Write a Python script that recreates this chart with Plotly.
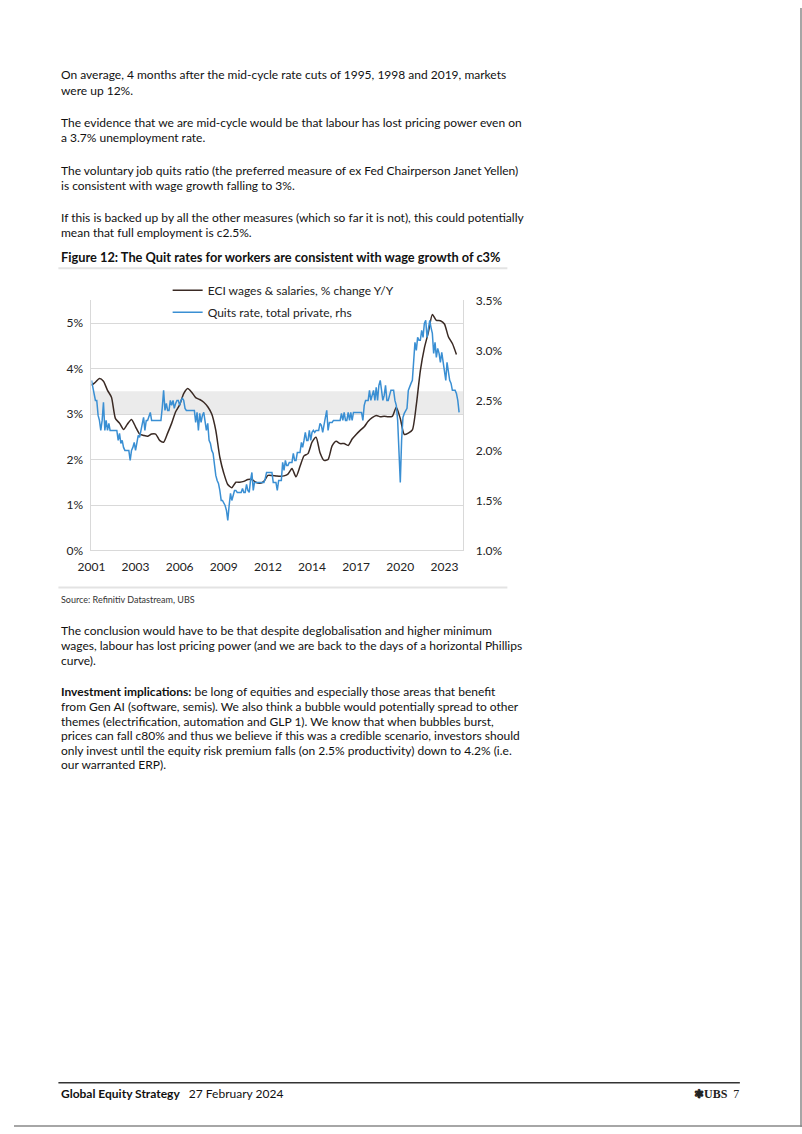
import pandas as pd
import plotly.graph_objects as go

# ---------------- data ----------------
eci_start = "2001-01-01"
eci_values = [3.63, 3.70, 3.78, 3.72, 3.52, 3.37, 2.90, 2.80, 2.66, 2.78, 2.88, 2.72,
              2.56, 2.53, 2.51, 2.56, 2.56, 2.42, 2.38, 2.58, 2.80, 3.05, 3.20, 3.45,
              3.56, 3.48, 3.36, 3.32, 3.26, 3.16, 3.00, 2.64, 2.05, 1.70, 1.45, 1.38,
              1.50, 1.50, 1.52, 1.56, 1.56, 1.50, 1.48, 1.52, 1.65, 1.65, 1.64, 1.63,
              1.64, 1.68, 1.80, 1.62, 1.85, 2.08, 2.13, 2.38, 2.49, 2.15, 1.98, 2.00,
              2.30, 2.40, 2.35, 2.35, 2.31, 2.45, 2.55, 2.64, 2.72, 2.84, 2.92, 2.97,
              2.94, 2.95, 2.94, 2.95, 3.15, 2.90, 2.55, 2.58, 2.65, 3.20, 3.95, 4.45,
              4.80, 5.19, 5.06, 5.05, 4.98, 4.70, 4.55, 4.31]

quits_start = "2001-01-01"
quits_values = [
    2.70, 2.63, 2.55, 2.50, 2.50, 2.35, 2.30, 2.20, 2.30, 2.48, 2.20, 2.30,  # 2001
    2.20, 2.27, 2.20, 2.20, 2.20, 2.20, 2.20, 2.20, 2.10, 2.17, 2.07, 2.10,  # 2002
    2.03, 2.00, 2.00, 2.00, 2.00, 1.90, 2.00, 2.03, 2.08, 2.00, 2.10, 2.15,  # 2003
    2.13, 2.20, 2.25, 2.33, 2.20, 2.30, 2.30, 2.35, 2.38, 2.30, 2.30, 2.30,  # 2004
    2.30, 2.30, 2.30, 2.30, 2.30, 2.43, 2.60, 2.40, 2.47, 2.40, 2.40, 2.50,  # 2005
    2.45, 2.50, 2.42, 2.47, 2.50, 2.50, 2.45, 2.50, 2.52, 2.50, 2.42, 2.40,  # 2006
    2.40, 2.40, 2.40, 2.40, 2.40, 2.40, 2.28, 2.38, 2.20, 2.37, 2.28, 2.35,  # 2007
    2.38, 2.30, 2.20, 2.27, 2.10, 2.07, 2.00, 1.97, 1.83, 1.75, 1.70, 1.67,  # 2008
    1.60, 1.50, 1.50, 1.47, 1.45, 1.40, 1.30, 1.45, 1.57, 1.50, 1.55, 1.60,  # 2009
    1.60, 1.58, 1.58, 1.58, 1.58, 1.62, 1.58, 1.58, 1.66, 1.60, 1.58, 1.70,  # 2010
    1.78, 1.60, 1.68, 1.68, 1.68, 1.68, 1.68, 1.68, 1.68, 1.68, 1.72, 1.78,  # 2011
    1.78, 1.78, 1.78, 1.78, 1.68, 1.68, 1.68, 1.60, 1.70, 1.70, 1.70, 1.88,  # 2012
    1.80, 1.90, 1.85, 1.85, 1.88, 1.88, 1.88, 1.97, 1.90, 1.90, 1.98, 1.98,  # 2013
    1.98, 2.08, 2.03, 2.10, 2.18, 2.10, 2.10, 2.20, 2.10, 2.18, 2.20, 2.18,  # 2014
    2.20, 2.20, 2.20, 2.27, 2.25, 2.18, 2.28, 2.33, 2.40, 2.20, 2.28, 2.28,  # 2015
    2.28, 2.30, 2.30, 2.30, 2.30, 2.30, 2.30, 2.37, 2.30, 2.38, 2.30, 2.30,  # 2016
    2.38, 2.30, 2.38, 2.30, 2.38, 2.38, 2.38, 2.38, 2.38, 2.38, 2.38, 2.30,  # 2017
    2.45, 2.50, 2.50, 2.50, 2.60, 2.50, 2.55, 2.60, 2.50, 2.63, 2.50, 2.65,  # 2018
    2.70, 2.57, 2.50, 2.55, 2.65, 2.50, 2.50, 2.55, 2.60, 2.60, 2.60, 2.50,  # 2019
    2.45, 2.30, 2.00, 1.68, 2.10, 2.33, 2.37, 2.40, 2.42, 2.60, 2.65, 2.67,  # 2020
    2.70, 2.87, 3.08, 3.00, 3.13, 3.10, 3.10, 3.20, 3.13, 3.27, 3.30, 3.13,  # 2021
    3.23, 3.30, 3.23, 3.17, 2.97, 3.08, 2.93, 3.02, 2.97, 2.88, 2.98, 2.87,  # 2022
    2.80, 2.70, 2.88, 2.78, 2.70, 2.67, 2.60, 2.60, 2.60, 2.57, 2.50, 2.38,  # 2023
]

x_tick_dates = ["2001-01-01", "2003-10-01", "2006-07-01", "2009-04-01", "2012-01-01",
                "2014-10-01", "2017-07-01", "2020-04-01", "2023-01-01"]
x_tick_labels = ["2001", "2003", "2006", "2009", "2012", "2014", "2017", "2020", "2023"]
left_ticks = [0, 1, 2, 3, 4, 5]
left_tick_labels = ["0%", "1%", "2%", "3%", "4%", "5%"]
right_ticks = [1.0, 1.5, 2.0, 2.5, 3.0, 3.5]
right_tick_labels = ["1.0%", "1.5%", "2.0%", "2.5%", "3.0%", "3.5%"]
band_low, band_high = 3.0, 3.5

series_names = ["ECI wages & salaries, % change Y/Y", "Quits rate, total private, rhs"]

# ---------------- page geometry ----------------
# The photograph shows the page inset by (16, 8) px inside an 818x1150 area that is
# fitted back to 802x1134, so target photo positions are converted here.
W, H = 802, 1134
OX, OY = 16, 8
SX, SY = (W + OX) / W, (H + 2 * OY) / H
def px(x):
    return (x * SX - OX) / W
def py(y):
    return 1 - (y * SY - OY) / H

eci_dates = pd.date_range(eci_start, periods=len(eci_values), freq="QS")
quits_dates = pd.date_range(quits_start, periods=len(quits_values), freq="MS")

FONT = "Lato"
BLUE = "#3a8fd3"
BROWN = "#3a2a24"

fig = go.Figure()
fig.add_trace(go.Scatter(x=eci_dates, y=eci_values, name=series_names[0], mode="lines",
                         line=dict(color=BROWN, width=1.5, shape="spline", smoothing=0.6),
                         legendgroup="a", yaxis="y"))
fig.add_trace(go.Scatter(x=quits_dates, y=quits_values, name=series_names[1], mode="lines",
                         line=dict(color=BLUE, width=1.5), legendgroup="b", yaxis="y2"))

fig.add_hrect(y0=band_low, y1=band_high, fillcolor="#ebebeb", line_width=0, layer="below",
              xref="x", yref="y")

grid = "#d9d9d9"
fig.update_layout(
    width=W, height=H, margin=dict(l=0, r=0, t=0, b=0),
    paper_bgcolor="white", plot_bgcolor="white",
    font=dict(family=FONT, size=12, color="#222"),
    showlegend=True,
    legend=dict(x=px(169), y=py(275.5), xanchor="left", yanchor="top",
                bgcolor="rgba(0,0,0,0)", font=dict(size=12, color="#222", family=FONT),
                traceorder="grouped", tracegroupgap=3, itemwidth=30),
    xaxis=dict(domain=[px(93), px(464)], type="date",
               range=["2001-01-01", "2024-03-05"],
               tickvals=x_tick_dates, ticktext=x_tick_labels, showgrid=False,
               showline=True, linecolor=grid, linewidth=1, ticks="", zeroline=False,
               tickfont=dict(size=12, color="#222"), ticklabelstandoff=5),
    yaxis=dict(domain=[py(550), py(300)], range=[0, 5.5], tickvals=left_ticks,
               ticktext=left_tick_labels, showgrid=True, gridcolor=grid, gridwidth=1,
               showline=True, linecolor=grid, zeroline=False, ticks="",
               tickfont=dict(size=12, color="#222"), ticklabelstandoff=5),
    yaxis2=dict(domain=[py(550), py(300)], range=[1.0, 3.5], overlaying="y", side="right",
                anchor="x", tickvals=right_ticks, ticktext=right_tick_labels, showgrid=False,
                showline=True, linecolor=grid, zeroline=False, ticks="",
                tickfont=dict(size=12, color="#222"), ticklabelstandoff=9),
)

# ---------------- page text ----------------
body = [
    (74, "On average, 4 months after the mid-cycle rate cuts of 1995, 1998 and 2019, markets"),
    (90, "were up 12%."),
    (122, "The evidence that we are mid-cycle would be that labour has lost pricing power even on"),
    (137, "a 3.7% unemployment rate."),
    (170, "The voluntary job quits ratio (the preferred measure of ex Fed Chairperson Janet Yellen)"),
    (185, "is consistent with wage growth falling to 3%."),
    (217, "If this is backed up by all the other measures (which so far it is not), this could potentially"),
    (232, "mean that full employment is c2.5%."),
    (630, "The conclusion would have to be that despite deglobalisation and higher minimum"),
    (645, "wages, labour has lost pricing power (and we are back to the days of a horizontal Phillips"),
    (660, "curve)."),
    (691, "<b>Investment implications:</b> be long of equities and especially those areas that benefit"),
    (706, "from Gen AI (software, semis). We also think a bubble would potentially spread to other"),
    (721, "themes (electrification, automation and GLP 1). We know that when bubbles burst,"),
    (735, "prices can fall c80% and thus we believe if this was a credible scenario, investors should"),
    (750, "only invest until the equity risk premium falls (on 2.5% productivity) down to 4.2% (i.e."),
    (764, "our warranted ERP)."),
]
annots = []
for y, t in body:
    annots.append(dict(x=px(61), y=py(y), xref="paper", yref="paper", text=t, showarrow=False,
                       xanchor="left", yanchor="middle", font=dict(size=12, color="#111", family=FONT)))

annots.append(dict(x=px(61), y=py(257), xref="paper", yref="paper",
                   text="<b>Figure 12: The Quit rates for workers are consistent with wage growth of c3%</b>",
                   showarrow=False, xanchor="left", yanchor="middle",
                   font=dict(size=12.8, color="#111", family=FONT)))
annots.append(dict(x=px(61), y=py(599), xref="paper", yref="paper",
                   text="Source: Refinitiv Datastream, UBS", showarrow=False,
                   xanchor="left", yanchor="middle", font=dict(size=9, color="#333", family=FONT)))
annots.append(dict(x=px(61), y=py(1093), xref="paper", yref="paper",
                   text="<b>Global Equity Strategy</b>\u2002 27 February 2024", showarrow=False,
                   xanchor="left", yanchor="middle", font=dict(size=12, color="#111", family=FONT)))
annots.append(dict(x=px(741), y=py(1093), xref="paper", yref="paper",
                   text="<b>\u2743UBS</b>  7", showarrow=False,
                   xanchor="right", yanchor="middle",
                   font=dict(size=12, color="#222", family="Liberation Serif")))
fig.update_layout(annotations=annots)

# rules and page border (right and bottom edges of the page)
fig.add_shape(type="line", xref="paper", yref="paper", x0=px(60), x1=px(508), y0=py(268), y1=py(268),
              line=dict(color="#e3e3e3", width=2))
fig.add_shape(type="line", xref="paper", yref="paper", x0=px(60), x1=px(508), y0=py(587), y1=py(587),
              line=dict(color="#e3e3e3", width=2))
fig.add_shape(type="line", xref="paper", yref="paper", x0=px(60), x1=px(740), y0=py(1082), y1=py(1082),
              line=dict(color="#333", width=1.5))
fig.add_shape(type="line", xref="paper", yref="paper", x0=px(801), x1=px(801), y0=0, y1=1,
              line=dict(color="#888", width=1.5))
fig.add_shape(type="line", xref="paper", yref="paper", x0=0, x1=1, y0=0.0008, y1=0.0008,
              line=dict(color="#888", width=1.5))

post = (
    "document.documentElement.style.margin='0';document.documentElement.style.padding='0';"
    "document.body.style.margin='0';document.body.style.padding='0';"
)
fig.write_html("out.html", config={"displayModeBar": False}, post_script=post)
